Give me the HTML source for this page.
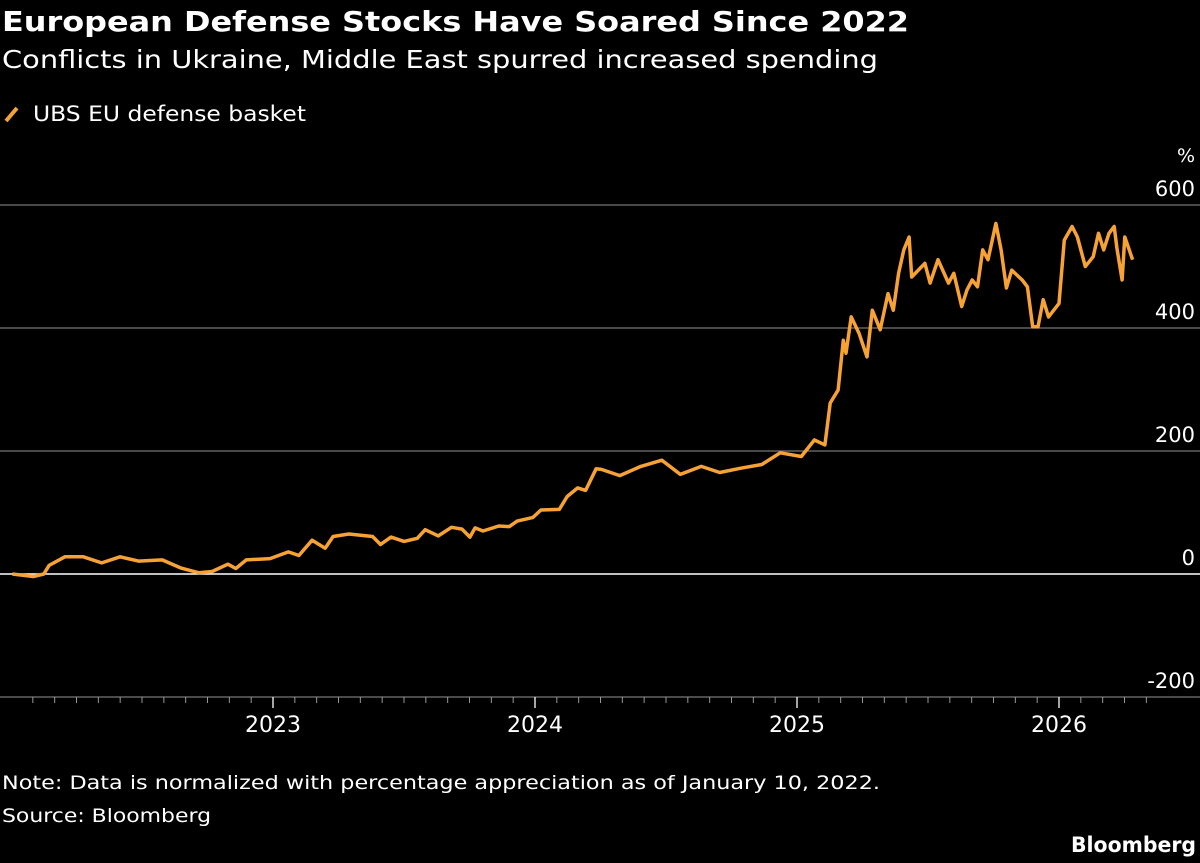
<!DOCTYPE html>
<html><head><meta charset="utf-8">
<style>
body{margin:0;background:#000;width:1200px;height:863px;overflow:hidden;font-family:"DejaVu Sans","Liberation Sans",sans-serif;color:#fff}
svg{position:absolute;left:0;top:0}
</style></head>
<body>
<svg id="chart" width="1200" height="863">
<text x="2" y="31" font-size="28" font-weight="bold" fill="#fff" textLength="907" lengthAdjust="spacingAndGlyphs">European Defense Stocks Have Soared Since 2022</text>
<text x="2" y="68" font-size="25" fill="#fff" textLength="876" lengthAdjust="spacingAndGlyphs">Conflicts in Ukraine, Middle East spurred increased spending</text>
<g>
<line x1="6" y1="121" x2="17" y2="108" stroke="#f7a234" stroke-width="4"/>
<text x="33" y="121" font-size="21" fill="#fff" textLength="273" lengthAdjust="spacingAndGlyphs">UBS EU defense basket</text>
</g>
<text x="1195" y="162" font-size="19" text-anchor="end" fill="#fff">%</text>
<g id="grid"></g>
<g id="xaxis"></g>
<path id="line" fill="none" stroke="#f7a234" stroke-width="3.5" stroke-linejoin="round"/>
<text x="2" y="789" font-size="19" fill="#fff" textLength="878" lengthAdjust="spacingAndGlyphs">Note: Data is normalized with percentage appreciation as of January 10, 2022.</text>
<text x="2" y="822" font-size="19" fill="#fff" textLength="209" lengthAdjust="spacingAndGlyphs">Source: Bloomberg</text>
<text x="1196" y="852" font-size="21" font-weight="bold" text-anchor="end" fill="#fff" textLength="125" lengthAdjust="spacingAndGlyphs">Bloomberg</text>
</svg>
<script>
const yTicks=[600,400,200,0,-200];
const yearLabels=[2023,2024,2025,2026];
const dates=[2022.02,2022.10,2022.14,2022.16,2022.22,2022.29,2022.36,2022.43,2022.50,2022.59,2022.66,2022.73,2022.78,2022.84,2022.87,2022.91,2023.00,2023.07,2023.11,2023.16,2023.21,2023.24,2023.30,2023.39,2023.42,2023.46,2023.51,2023.56,2023.59,2023.64,2023.69,2023.73,2023.76,2023.78,2023.81,2023.87,2023.91,2023.94,2024.00,2024.03,2024.10,2024.13,2024.17,2024.20,2024.24,2024.26,2024.33,2024.41,2024.49,2024.56,2024.64,2024.71,2024.79,2024.87,2024.94,2025.02,2025.07,2025.11,2025.13,2025.16,2025.18,2025.19,2025.21,2025.24,2025.27,2025.29,2025.32,2025.35,2025.37,2025.39,2025.41,2025.43,2025.44,2025.49,2025.51,2025.54,2025.58,2025.60,2025.63,2025.65,2025.67,2025.69,2025.71,2025.73,2025.76,2025.78,2025.80,2025.82,2025.86,2025.88,2025.90,2025.92,2025.94,2025.96,2026.00,2026.02,2026.05,2026.07,2026.10,2026.13,2026.15,2026.17,2026.19,2026.21,2026.22,2026.24,2026.25,2026.28];
const values=[0,-4,0,14,28,28,18,28,21,23,10,2,4,16,9,23,25,36,30,55,42,61,65,61,48,60,53,58,72,62,76,73,60,75,70,78,77,86,92,104,105,126,140,136,171,170,160,175,185,162,175,165,172,178,197,191,218,210,278,299,380,359,418,391,353,429,397,456,429,489,527,548,483,505,473,511,473,489,435,462,478,467,527,511,570,527,465,494,478,467,402,402,446,418,440,543,565,548,500,516,554,527,554,565,530,478,548,511];
const NS='http://www.w3.org/2000/svg';
const X=t=>7+(t-2022)*263;
const XT=t=>11+(t-2022)*262;
const Y=v=>574-v*0.615;
const grid=document.getElementById('grid');
yTicks.forEach(v=>{
  const l=document.createElementNS(NS,'line');
  l.setAttribute('x1',0);l.setAttribute('x2',1200);
  l.setAttribute('y1',Y(v));l.setAttribute('y2',Y(v));
  l.setAttribute('stroke',v===0?'#fff':'#777');l.setAttribute('stroke-width',v===0?1.6:1.2);
  
  
  grid.appendChild(l);
  const t=document.createElementNS(NS,'text');
  t.setAttribute('x',1195);t.setAttribute('y',Y(v)-9);
  t.setAttribute('text-anchor','end');t.setAttribute('font-size','21');t.setAttribute('fill','#fff');
  t.textContent=v;
  
  
  grid.appendChild(t);
});
const xa=document.getElementById('xaxis');
for(let m=1;m<=52;m++){
  const t=2022+m/12;
  const x=XT(t);
  if(x>1150)break;
  const isYear=m%12===0;
  const l=document.createElementNS(NS,'line');
  l.setAttribute('x1',x);l.setAttribute('x2',x);
  l.setAttribute('y1',Y(-200));l.setAttribute('y2',Y(-200)+(isYear?11:6));
  l.setAttribute('stroke',isYear?'#ddd':'#999');l.setAttribute('stroke-width',isYear?1.5:1);
  
  
  xa.appendChild(l);
}
yearLabels.forEach(yr=>{
  const t=document.createElementNS(NS,'text');
  t.setAttribute('x',XT(yr));t.setAttribute('y',732);
  t.setAttribute('text-anchor','middle');t.setAttribute('font-size','22');t.setAttribute('fill','#fff');
  t.textContent=yr;
  
  
  xa.appendChild(t);
});
document.getElementById('line').setAttribute('d',dates.map((d,i)=>(i?'L':'M')+X(d).toFixed(1)+','+Y(values[i]).toFixed(1)).join(''));
</script>
</body></html>
